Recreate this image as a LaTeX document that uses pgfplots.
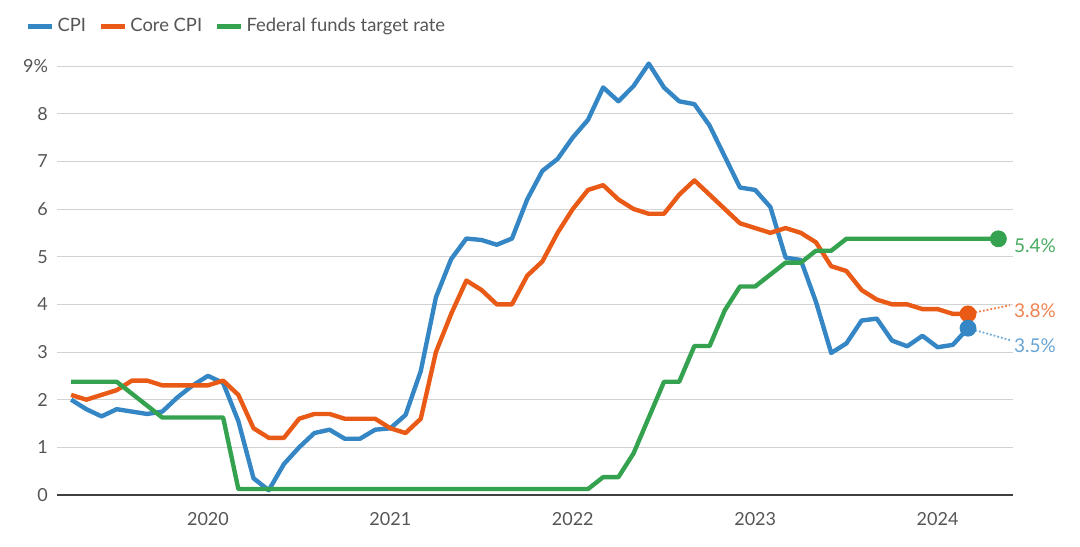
\documentclass[border=0pt]{standalone}
\usepackage{pgfplots}
\pgfplotsset{compat=1.18}
\usepackage{fontspec}
\setmainfont{Lato}
\definecolor{cpiblue}{HTML}{3586C4}
\definecolor{coreorange}{HTML}{E95A16}
\definecolor{fedgreen}{HTML}{34A24F}
\definecolor{txtgray}{HTML}{555555}
\definecolor{gridgray}{HTML}{D2D2D2}

\begin{document}
\begin{tikzpicture}
\path[use as bounding box] (-28.5pt,-25.5pt) rectangle (511.5pt,247.5pt);
\begin{axis}[
    at={(0pt,0pt)}, anchor=south west,
    scale only axis, width=478pt, height=214.5pt,
    xmin=-9.93, xmax=52.96, ymin=0, ymax=9,
    clip=false,
    axis x line*=bottom, axis y line*=left,
    y axis line style={draw=none},
    x axis line style={draw=black!75, line width=0.8pt, -},
    major tick length=0pt,
    xtick={0,12,24,36,48}, xticklabels={2020,2021,2022,2023,2024},
    ytick={0,1,...,9}, yticklabels={0,1,2,3,4,5,6,7,8,9\%},
    ymajorgrids, grid style={gridgray, line width=0.5pt},
    tick label style={font=\fontsize{9}{10}\selectfont, text=txtgray},
    xticklabel style={yshift=-5pt},
    yticklabel style={xshift=-1pt},
    /pgf/number format/assume math mode=true,
    legend columns=3,
    legend style={draw=none, fill=none, at={(-0.039,1.092)}, anchor=west,
        font=\fontsize{9.2}{10}\selectfont, text=txtgray,
        /tikz/every even column/.append style={column sep=5pt},
        nodes={inner xsep=1.5pt}},
    legend image code/.code={\draw[#1, line width=2.2pt] (0pt,0pt) -- (12pt,0pt);},
]
\addplot[cpiblue, line width=2.2pt, line join=round] coordinates {
(-9,2.0) (-8,1.8) (-7,1.65) (-6,1.8) (-5,1.75) (-4,1.7) (-3,1.75) (-2,2.05) (-1,2.3)
(0,2.5) (1,2.35) (2,1.55) (3,0.35) (4,0.1) (5,0.65) (6,1.0) (7,1.3) (8,1.37) (9,1.18) (10,1.18) (11,1.37)
(12,1.4) (13,1.68) (14,2.6) (15,4.15) (16,4.95) (17,5.38) (18,5.35) (19,5.25) (20,5.38) (21,6.2) (22,6.8) (23,7.05)
(24,7.5) (25,7.87) (26,8.55) (27,8.26) (28,8.58) (29,9.05) (30,8.55) (31,8.26) (32,8.2) (33,7.75) (34,7.1) (35,6.45)
(36,6.4) (37,6.04) (38,4.98) (39,4.93) (40,4.05) (41,2.98) (42,3.18) (43,3.66) (44,3.7) (45,3.24) (46,3.12) (47,3.34)
(48,3.1) (49,3.15) (50,3.5)
};
\addlegendentry{CPI}
\addplot[coreorange, line width=2.2pt, line join=round] coordinates {
(-9,2.1) (-8,2.0) (-7,2.1) (-6,2.2) (-5,2.4) (-4,2.4) (-3,2.3) (-2,2.3) (-1,2.3)
(0,2.3) (1,2.4) (2,2.1) (3,1.4) (4,1.2) (5,1.2) (6,1.6) (7,1.7) (8,1.7) (9,1.6) (10,1.6) (11,1.6)
(12,1.4) (13,1.3) (14,1.6) (15,3.0) (16,3.8) (17,4.5) (18,4.3) (19,4.0) (20,4.0) (21,4.6) (22,4.9) (23,5.5)
(24,6.0) (25,6.4) (26,6.5) (27,6.2) (28,6.0) (29,5.9) (30,5.9) (31,6.3) (32,6.6) (33,6.3) (34,6.0) (35,5.7)
(36,5.6) (37,5.5) (38,5.6) (39,5.5) (40,5.3) (41,4.8) (42,4.7) (43,4.3) (44,4.1) (45,4.0) (46,4.0) (47,3.9)
(48,3.9) (49,3.8) (50,3.8)
};
\addlegendentry{Core CPI}
\addplot[fedgreen, line width=2.2pt, line join=round] coordinates {
(-9,2.375) (-8,2.375) (-7,2.375) (-6,2.375) (-5,2.125) (-4,1.875) (-3,1.625) (-2,1.625) (-1,1.625)
(0,1.625) (1,1.625) (2,0.125) (25,0.125) (26,0.375) (27,0.375) (28,0.875) (29,1.625) (30,2.375) (31,2.375)
(32,3.125) (33,3.125) (34,3.875) (35,4.375) (36,4.375) (37,4.625) (38,4.875) (39,4.875) (40,5.125) (41,5.125)
(42,5.375) (52,5.375)
};
\addlegendentry{Federal funds target rate}
% end markers and leader lines
\addplot[forget plot, coreorange!80, densely dotted, line width=0.9pt] coordinates {(50,3.8) (52.76,3.98)};
\addplot[forget plot, cpiblue!70, densely dotted, line width=0.9pt] coordinates {(50,3.5) (52.76,3.25)};
\addplot[forget plot, only marks, mark=*, mark size=4pt, color=fedgreen] coordinates {(52,5.375)};
\addplot[forget plot, only marks, mark=*, mark size=4pt, color=coreorange] coordinates {(50,3.8)};
\addplot[forget plot, only marks, mark=*, mark size=4pt, color=cpiblue] coordinates {(50,3.5)};
\node[anchor=west, inner sep=0pt, text=fedgreen!90!white, font=\fontsize{9.5}{10}\selectfont] at (axis cs:53,5.24) {5.4\%};
\node[anchor=west, inner sep=0pt, text=coreorange!75!white, font=\fontsize{9.5}{10}\selectfont] at (axis cs:53,3.86) {3.8\%};
\node[anchor=west, inner sep=0pt, text=cpiblue!75!white, font=\fontsize{9.5}{10}\selectfont] at (axis cs:53,3.14) {3.5\%};
\end{axis}
\end{tikzpicture}
\end{document}
